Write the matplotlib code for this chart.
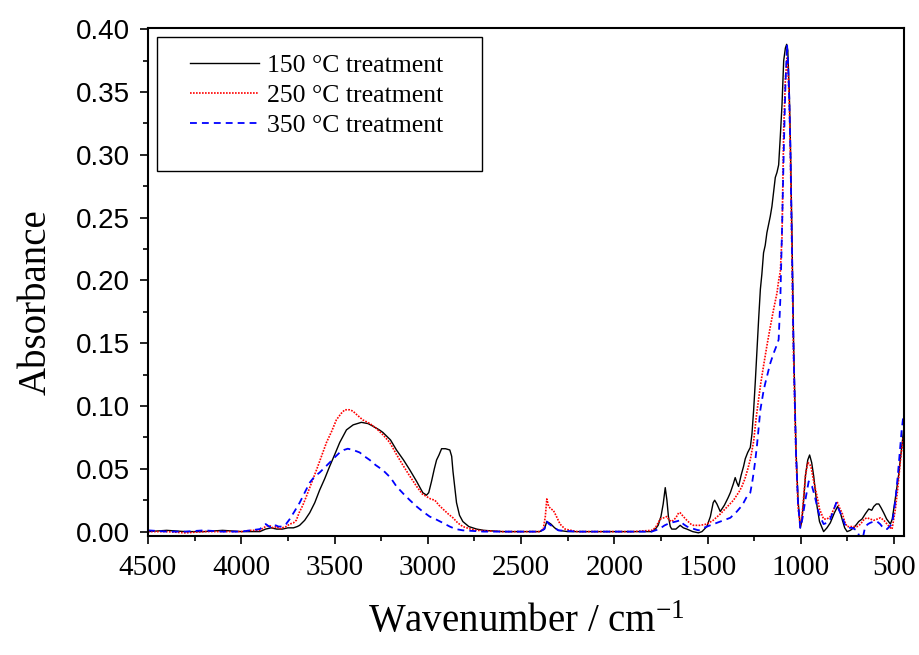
#!/usr/bin/env python3
"""
FT-IR spectra of samples after heat treatment (150 / 250 / 350 °C).
Absorbance vs wavenumber, reversed x axis.
"""

import numpy as np
import matplotlib
matplotlib.use("Agg")
import matplotlib.pyplot as plt
from matplotlib.patches import Rectangle
from matplotlib.ticker import MultipleLocator

# ---- data (wavenumber / cm-1, absorbance) ----
wn_150 = [4500, 4400, 4300, 4200, 4100, 4000, 3950, 3900, 3870, 3840, 3810, 3780, 3750, 3720,
          3700, 3687, 3660, 3633, 3606, 3580, 3553, 3526, 3500, 3472, 3450, 3436, 3400, 3356,
          3320, 3295, 3260, 3241, 3200, 3168, 3130, 3096, 3060, 3027, 3007, 2995, 2980, 2965,
          2953, 2940, 2926, 2905, 2882, 2872, 2865, 2855, 2846, 2830, 2812, 2780, 2738, 2700,
          2600, 2500, 2400, 2375, 2362, 2350, 2340, 2320, 2300, 2250, 2100, 2000, 1900, 1800,
          1780, 1765, 1750, 1738, 1727, 1718, 1710, 1700, 1692, 1670, 1647, 1630, 1611, 1580,
          1549, 1530, 1504, 1485, 1470, 1462, 1450, 1432, 1410, 1390, 1378, 1362, 1352, 1343,
          1334, 1320, 1307, 1298, 1285, 1271, 1262, 1253, 1244, 1235, 1226, 1217, 1209, 1200,
          1191, 1182, 1164, 1155, 1137, 1128, 1119, 1110, 1101, 1092, 1083, 1076, 1070, 1062,
          1056, 1047, 1039, 1026, 1015, 1003, 995, 985, 975, 963, 953, 942, 931, 922, 913, 900,
          878, 860, 842, 820, 803, 790, 779, 765, 752, 735, 717, 700, 690, 672, 655, 636, 620,
          609, 595, 582, 570, 556, 540, 520, 510, 502, 490, 475, 465, 457, 450]
abs_150 = [0.000, 0.001, 0.000, 0.000, 0.001, 0.000, 0.000, 0.000, 0.002, 0.003, 0.002, 0.002,
           0.003, 0.003, 0.004, 0.005, 0.009, 0.015, 0.023, 0.033, 0.042, 0.052, 0.061, 0.071,
           0.077, 0.081, 0.085, 0.087, 0.086, 0.084, 0.081, 0.079, 0.073, 0.065, 0.057, 0.049,
           0.040, 0.031, 0.029, 0.031, 0.040, 0.050, 0.057, 0.061, 0.066, 0.066, 0.065, 0.060,
           0.048, 0.035, 0.023, 0.013, 0.008, 0.004, 0.002, 0.001, 0.000, 0.000, 0.000, 0.002,
           0.008, 0.007, 0.006, 0.003, 0.001, 0.000, 0.000, 0.000, 0.000, 0.000, 0.002, 0.005,
           0.012, 0.022, 0.035, 0.025, 0.012, 0.004, 0.002, 0.002, 0.005, 0.003, 0.002, 0.000,
           -0.001, 0.000, 0.004, 0.012, 0.023, 0.025, 0.022, 0.016, 0.021, 0.027, 0.031, 0.038,
           0.043, 0.039, 0.036, 0.045, 0.052, 0.058, 0.063, 0.067, 0.078, 0.097, 0.120, 0.145,
           0.170, 0.193, 0.205, 0.222, 0.228, 0.238, 0.251, 0.259, 0.282, 0.286, 0.292, 0.315,
           0.340, 0.375, 0.385, 0.388, 0.383, 0.350, 0.310, 0.230, 0.150, 0.065, 0.025, 0.003,
           0.008, 0.025, 0.045, 0.057, 0.061, 0.055, 0.044, 0.032, 0.020, 0.008, 0.000, 0.003,
           0.007, 0.015, 0.020, 0.016, 0.010, 0.003, 0.000, 0.001, 0.003, 0.006, 0.008, 0.010,
           0.014, 0.018, 0.017, 0.020, 0.022, 0.022, 0.019, 0.015, 0.010, 0.006, 0.010, 0.018,
           0.030, 0.046, 0.060, 0.070, 0.080]

wn_250 = [4500, 4400, 4300, 4200, 4100, 4000, 3950, 3900, 3870, 3850, 3830, 3810, 3796, 3780,
          3760, 3740, 3720, 3705, 3690, 3670, 3651, 3625, 3597, 3570, 3543, 3515, 3490, 3465,
          3445, 3420, 3402, 3380, 3349, 3310, 3275, 3240, 3204, 3170, 3134, 3100, 3060, 3030,
          3007, 2985, 2962, 2940, 2919, 2890, 2865, 2840, 2812, 2770, 2738, 2600, 2500, 2400,
          2381, 2370, 2362, 2352, 2340, 2327, 2310, 2291, 2264, 2200, 2100, 2000, 1900, 1800,
          1780, 1765, 1754, 1735, 1718, 1705, 1692, 1670, 1655, 1647, 1630, 1611, 1590, 1576,
          1540, 1504, 1470, 1432, 1400, 1361, 1330, 1316, 1300, 1286, 1270, 1253, 1240, 1227,
          1215, 1200, 1182, 1164, 1146, 1128, 1119, 1110, 1101, 1092, 1083, 1074, 1068, 1062,
          1056, 1047, 1039, 1026, 1015, 1003, 995, 985, 975, 963, 953, 945, 931, 913, 900, 878,
          860, 842, 820, 806, 790, 779, 765, 752, 735, 717, 698, 680, 660, 645, 628, 609, 590,
          573, 555, 538, 520, 511, 502, 493, 480, 466, 457, 450]
abs_250 = [0.000, 0.000, -0.001, 0.000, 0.000, 0.000, 0.001, 0.001, 0.004, 0.005, 0.003, 0.004,
           0.002, 0.003, 0.004, 0.006, 0.007, 0.009, 0.015, 0.021, 0.028, 0.038, 0.049, 0.060,
           0.071, 0.080, 0.089, 0.094, 0.097, 0.097, 0.096, 0.093, 0.089, 0.086, 0.082, 0.077,
           0.071, 0.062, 0.053, 0.045, 0.036, 0.030, 0.028, 0.026, 0.025, 0.021, 0.018, 0.014,
           0.011, 0.007, 0.004, 0.002, 0.001, 0.000, 0.000, 0.000, 0.002, 0.012, 0.026, 0.020,
           0.018, 0.017, 0.012, 0.006, 0.002, 0.000, 0.000, 0.000, 0.000, 0.001, 0.003, 0.007,
           0.010, 0.011, 0.012, 0.009, 0.008, 0.011, 0.015, 0.015, 0.012, 0.009, 0.006, 0.005,
           0.005, 0.006, 0.009, 0.014, 0.019, 0.025, 0.032, 0.036, 0.042, 0.049, 0.058, 0.072,
           0.090, 0.105, 0.118, 0.132, 0.148, 0.163, 0.177, 0.190, 0.200, 0.207, 0.235, 0.320,
           0.360, 0.377, 0.365, 0.340, 0.300, 0.215, 0.140, 0.060, 0.020, 0.004, 0.010, 0.028,
           0.045, 0.055, 0.054, 0.051, 0.040, 0.028, 0.018, 0.010, 0.010, 0.012, 0.019, 0.024,
           0.018, 0.015, 0.008, 0.004, 0.004, 0.004, 0.004, 0.006, 0.010, 0.011, 0.010, 0.009,
           0.010, 0.011, 0.009, 0.006, 0.003, 0.002, 0.010, 0.018, 0.035, 0.057, 0.068, 0.075]

wn_350 = [4500, 4400, 4300, 4200, 4100, 4000, 3950, 3900, 3869, 3850, 3830, 3816, 3800, 3780,
          3760, 3740, 3715, 3687, 3660, 3633, 3606, 3580, 3553, 3526, 3500, 3472, 3450, 3429,
          3400, 3365, 3340, 3311, 3280, 3241, 3200, 3168, 3130, 3096, 3060, 3027, 2990, 2953,
          2920, 2882, 2850, 2812, 2700, 2500, 2400, 2375, 2362, 2350, 2340, 2320, 2300, 2200,
          2000, 1900, 1800, 1760, 1730, 1700, 1670, 1647, 1630, 1610, 1593, 1549, 1520, 1486,
          1450, 1415, 1378, 1343, 1320, 1307, 1289, 1271, 1260, 1253, 1244, 1235, 1226, 1217,
          1200, 1191, 1164, 1146, 1125, 1119, 1110, 1101, 1092, 1083, 1074, 1068, 1062, 1056,
          1047, 1039, 1026, 1015, 1003, 992, 976, 958, 940, 925, 913, 900, 878, 860, 842, 825,
          810, 795, 779, 765, 752, 725, 700, 685, 675, 665, 655, 640, 628, 610, 591, 575, 564,
          550, 538, 525, 511, 502, 493, 480, 470, 460, 450]
abs_350 = [0.001, 0.000, 0.000, 0.001, 0.000, 0.000, 0.001, 0.002, 0.006, 0.004, 0.003, 0.005,
           0.004, 0.004, 0.006, 0.010, 0.016, 0.023, 0.031, 0.039, 0.044, 0.047, 0.051, 0.055,
           0.059, 0.063, 0.065, 0.066, 0.065, 0.063, 0.060, 0.057, 0.053, 0.049, 0.043, 0.036,
           0.030, 0.025, 0.020, 0.016, 0.012, 0.0095, 0.007, 0.004, 0.002, 0.001, 0.000, 0.000,
           0.000, 0.002, 0.008, 0.006, 0.005, 0.003, 0.001, 0.000, 0.000, 0.000, 0.000, 0.002,
           0.005, 0.007, 0.008, 0.009, 0.006, 0.004, 0.003, 0.001, 0.003, 0.005, 0.007, 0.009,
           0.011, 0.016, 0.020, 0.023, 0.028, 0.031, 0.040, 0.047, 0.057, 0.069, 0.083, 0.097,
           0.112, 0.118, 0.134, 0.142, 0.150, 0.153, 0.185, 0.240, 0.301, 0.354, 0.388, 0.370,
           0.345, 0.305, 0.220, 0.145, 0.063, 0.022, 0.003, 0.010, 0.025, 0.040, 0.036, 0.028,
           0.020, 0.013, 0.006, 0.007, 0.010, 0.017, 0.023, 0.017, 0.012, 0.006, 0.003, 0.003,
           0.001, -0.004, -0.012, -0.003, 0.004, 0.006, 0.007, 0.008, 0.008, 0.006, 0.004, 0.002,
           0.002, 0.004, 0.006, 0.015, 0.025, 0.045, 0.063, 0.080, 0.093]

series_labels = ["150 °C treatment", "250 °C treatment", "350 °C treatment"]

SERIF = "Liberation Serif"
SANS = "Liberation Sans"


def plot_spectra(output_path):
    plt.rcParams['mathtext.fontset'] = 'custom'
    plt.rcParams['mathtext.rm'] = SERIF
    plt.rcParams['mathtext.it'] = SERIF + ':italic'

    fig = plt.figure(figsize=(9.19, 6.55), dpi=100)
    # 軸の位置（ピクセルから換算）
    ax = fig.add_axes([148 / 919, 1 - 536 / 655, (904 - 148) / 919, (536 - 28) / 655])

    # スペクトル
    l1, = ax.plot(wn_150, abs_150, color='black', lw=1.0, linestyle='-')
    l2, = ax.plot(wn_250, abs_250, color='red', lw=1.2, linestyle=(0, (1, 0.8)))
    l3, = ax.plot(wn_350, abs_350, color='blue', lw=1.3, linestyle=(0, (3.8, 2.8)))

    ax.set_xlim(4500, 447)
    ax.set_ylim(-0.0035, 0.401)

    ax.xaxis.set_major_locator(MultipleLocator(500))
    ax.xaxis.set_minor_locator(MultipleLocator(250))
    ax.yaxis.set_major_locator(MultipleLocator(0.05))
    ax.yaxis.set_minor_locator(MultipleLocator(0.025))
    ax.yaxis.set_major_formatter(plt.FuncFormatter(lambda v, p: f"{v:.2f}"))

    ax.tick_params(which='both', direction='out', top=False, right=False, width=1.2)
    ax.tick_params(which='major', length=6)
    ax.tick_params(which='minor', length=3.5)
    ax.tick_params(axis='y', labelsize=20, pad=7, labelfontfamily=SANS)
    ax.tick_params(axis='x', labelsize=21, pad=8, labelfontfamily=SERIF)

    for sp in ax.spines.values():
        sp.set_linewidth(1.5)

    # 軸ラベル
    ax.set_xlabel('Wavenumber / cm$^{-1}$', fontsize=28, family=SERIF, labelpad=16)
    ax.set_ylabel('Absorbance', fontsize=28, family=SERIF)
    ax.yaxis.set_label_coords(-0.124, 0.46)

    # 凡例（枠は別に描く）
    ax.add_patch(Rectangle((0.012, 0.7185), 0.4298, 0.2635, transform=ax.transAxes,
                           fill=False, edgecolor='black', lw=1.0, zorder=5))
    ax.legend([l1, l2, l3], series_labels, loc='upper left',
              bbox_to_anchor=(0.0556, 0.948), borderaxespad=0, borderpad=0,
              frameon=False, handlelength=2.7, handletextpad=0.3, labelspacing=0.26,
              prop={'family': SERIF, 'size': 18.5})

    fig.savefig(output_path, dpi=100)
    plt.close(fig)


def main():
    plot_spectra("out.png")


if __name__ == "__main__":
    main()
